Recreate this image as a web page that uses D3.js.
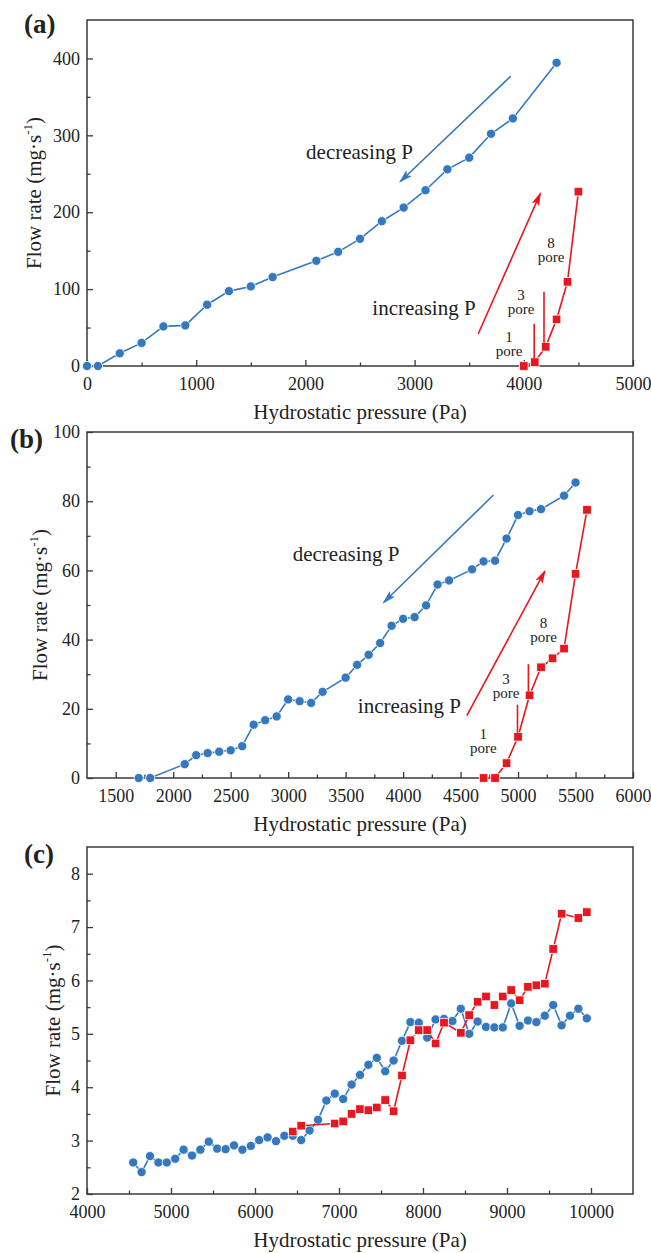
<!DOCTYPE html>
<html>
<head>
<meta charset="utf-8">
<script src="https://cdn.jsdelivr.net/npm/d3@7"></script>
<style>
body { margin: 0; background: #fff; }
svg text { font-family: "Liberation Serif", "Times New Roman", serif; fill: #222; }
</style>
</head>
<body>
<svg id="chart" width="651" height="1253"></svg>
<script>
// ---- panel (a) ----
var aDecPressure = [0, 100, 300, 500, 700, 900, 1100, 1300, 1500, 1700, 2100, 2300, 2500, 2700, 2900, 3100, 3300, 3500, 3700, 3900, 4300];
var aDecFlow = [0, 0, 16.5, 30, 51.5, 52.8, 79.7, 97.4, 103.5, 115.6, 136.8, 148.5, 165.4, 188.3, 206, 228.6, 255.8, 271, 302, 322, 394.4];
var aIncPressure = [4000, 4100, 4200, 4300, 4400, 4500];
var aIncFlow = [0, 5, 25, 60.6, 109.5, 226.8];
var aTicksX = [0, 1000, 2000, 3000, 4000, 5000];
var aMinorX = [500, 1500, 2500, 3500, 4500];
var aTicksY = [0, 100, 200, 300, 400];
var aMinorY = [50, 150, 250, 350];

// ---- panel (b) ----
var bDecPressure = [1700, 1800, 2100, 2200, 2300, 2400, 2500, 2600, 2700, 2800, 2900, 3000, 3100, 3200, 3300, 3500, 3600, 3700, 3800, 3900, 4000, 4100, 4200, 4300, 4400, 4600, 4700, 4800, 4900, 5000, 5100, 5200, 5400, 5500];
var bDecFlow = [0, 0, 4.0, 6.6, 7.2, 7.6, 8.0, 9.2, 15.4, 16.7, 17.8, 22.7, 22.2, 21.7, 24.9, 29.0, 32.7, 35.6, 39.0, 44.0, 46.0, 46.5, 49.9, 55.9, 57.1, 60.3, 62.6, 62.8, 69.2, 76.0, 77.1, 77.7, 81.6, 85.4];
var bIncPressure = [4700, 4800, 4900, 5000, 5100, 5200, 5300, 5400, 5500, 5600];
var bIncFlow = [0, 0, 4.3, 11.9, 23.9, 32.0, 34.6, 37.4, 59.0, 77.5];
var bTicksX = [1500, 2000, 2500, 3000, 3500, 4000, 4500, 5000, 5500, 6000];
var bMinorX = [1750, 2250, 2750, 3250, 3750, 4250, 4750, 5250, 5750];
var bTicksY = [0, 20, 40, 60, 80, 100];
var bMinorY = [10, 30, 50, 70, 90];

// ---- panel (c) ----
var cDecPressure = [4550, 4650, 4750, 4850, 4950, 5050, 5150, 5250, 5350, 5450, 5550, 5650, 5750, 5850, 5950, 6050, 6150, 6250, 6350, 6450, 6550, 6650, 6750, 6850, 6950, 7050, 7150, 7250, 7350, 7450, 7550, 7650, 7750, 7850, 7950, 8050, 8150, 8250, 8350, 8450, 8550, 8650, 8750, 8850, 8950, 9050, 9150, 9250, 9350, 9450, 9550, 9650, 9750, 9850, 9950];
var cDecFlow = [2.59, 2.41, 2.71, 2.59, 2.59, 2.66, 2.83, 2.72, 2.83, 2.98, 2.85, 2.84, 2.91, 2.83, 2.90, 3.01, 3.06, 2.99, 3.09, 3.09, 3.01, 3.19, 3.39, 3.75, 3.88, 3.78, 4.05, 4.23, 4.42, 4.55, 4.30, 4.50, 4.87, 5.22, 5.21, 4.93, 5.27, 5.28, 5.24, 5.47, 5.00, 5.23, 5.13, 5.12, 5.12, 5.57, 5.15, 5.25, 5.22, 5.34, 5.54, 5.16, 5.34, 5.47, 5.29];
var cIncPressure = [6450, 6550, 6950, 7050, 7150, 7250, 7350, 7450, 7550, 7650, 7750, 7850, 7950, 8050, 8150, 8250, 8450, 8550, 8650, 8750, 8850, 8950, 9050, 9150, 9250, 9350, 9450, 9550, 9650, 9850, 9950];
var cIncFlow = [3.17, 3.28, 3.32, 3.36, 3.50, 3.59, 3.57, 3.62, 3.76, 3.55, 4.22, 4.88, 5.07, 5.07, 4.82, 5.21, 5.02, 5.35, 5.60, 5.70, 5.54, 5.70, 5.82, 5.63, 5.88, 5.91, 5.94, 6.59, 7.25, 7.17, 7.28];
var cTicksX = [4000, 5000, 6000, 7000, 8000, 9000, 10000];
var cMinorX = [4500, 5500, 6500, 7500, 8500, 9500];
var cTicksY = [2, 3, 4, 5, 6, 7, 8];
var cMinorY = [2.5, 3.5, 4.5, 5.5, 6.5, 7.5];

var BLUE = "#3479bd", RED = "#e8161e", AXIS = "#3a3a3a";
var LEFT = 87, RIGHT = 633;

var svg = d3.select("#chart");
var defs = svg.append("defs");
[["arrBlue", BLUE], ["arrRed", RED]].forEach(function(m) {
	defs.append("marker")
		.attr("id", m[0])
		.attr("markerUnits", "userSpaceOnUse")
		.attr("viewBox", "0 0 14 8")
		.attr("refX", 12).attr("refY", 4)
		.attr("markerWidth", 14).attr("markerHeight", 8)
		.attr("orient", "auto")
		.append("path")
		.attr("d", "M0,0 L14,4 L0,8 L3,4 z")
		.attr("fill", m[1]);
});

function zip(xs, ys) {
	return xs.map(function(v, i) { return [v, ys[i]]; });
}

function panel(o) {
	var g = svg.append("g");
	var x = d3.scaleLinear().domain(o.xDomain).range([LEFT, RIGHT]);
	var y = d3.scaleLinear().domain(o.yDomain).range([o.bottom, o.top]);

	// minor ticks (inward, no labels)
	g.append("g").attr("transform", "translate(0," + o.bottom + ")")
		.call(d3.axisBottom(x).tickValues(o.minorX).tickSize(-3.5).tickFormat(""));
	g.append("g").attr("transform", "translate(" + LEFT + ",0)")
		.call(d3.axisLeft(y).tickValues(o.minorY).tickSize(-3.5).tickFormat(""));

	// major ticks
	var xa = g.append("g").attr("transform", "translate(0," + o.bottom + ")")
		.call(d3.axisBottom(x).tickValues(o.ticksX).tickSize(-6).tickPadding(11).tickFormat(d3.format("d")));
	var ya = g.append("g").attr("transform", "translate(" + LEFT + ",0)")
		.call(d3.axisLeft(y).tickValues(o.ticksY).tickSize(-6).tickPadding(7).tickFormat(d3.format("d")));
	[xa, ya].forEach(function(a) {
		a.selectAll("text").attr("font-size", 18);
	});
	g.selectAll(".domain").remove();
	g.selectAll(".tick line").attr("stroke", AXIS).attr("stroke-width", 1.3);

	// frame
	g.append("rect")
		.attr("x", LEFT).attr("y", o.top)
		.attr("width", RIGHT - LEFT).attr("height", o.bottom - o.top)
		.attr("fill", "none").attr("stroke", AXIS).attr("stroke-width", 1.5);

	// axis titles
	g.append("text")
		.attr("x", (LEFT + RIGHT) / 2).attr("y", o.bottom + 53)
		.attr("text-anchor", "middle").attr("font-size", 21)
		.text("Hydrostatic pressure (Pa)");
	var yt = g.append("text")
		.attr("transform", "translate(" + o.yTitleX + "," + (o.top + o.bottom) / 2 + ") rotate(-90)")
		.attr("text-anchor", "middle").attr("font-size", 21);
	yt.append("tspan").text("Flow rate (mg\u00b7s");
	yt.append("tspan").attr("font-size", 13).attr("dy", -9).text("-1");
	yt.append("tspan").attr("dy", 9).text(")");

	// panel letter
	g.append("text")
		.attr("x", o.letterX).attr("y", o.letterY)
		.attr("font-size", 27).attr("font-weight", "bold")
		.text(o.letter);

	var line = d3.line().x(function(d) { return x(d[0]); }).y(function(d) { return y(d[1]); });

	// decreasing P (blue circles)
	var dec = zip(o.decP, o.decF);
	g.append("path").datum(dec)
		.attr("d", line).attr("fill", "none")
		.attr("stroke", BLUE).attr("stroke-width", 1.6);
	g.selectAll("circle.dec").data(dec).enter().append("circle")
		.attr("class", "dec")
		.attr("cx", function(d) { return x(d[0]); })
		.attr("cy", function(d) { return y(d[1]); })
		.attr("r", 4.6)
		.attr("fill", BLUE).attr("stroke", "#fff").attr("stroke-width", 0.8);

	// increasing P (red squares)
	var inc = zip(o.incP, o.incF);
	g.append("path").datum(inc)
		.attr("d", line).attr("fill", "none")
		.attr("stroke", RED).attr("stroke-width", 1.6);
	g.selectAll("rect.inc").data(inc).enter().append("rect")
		.attr("class", "inc")
		.attr("x", function(d) { return x(d[0]) - 4.3; })
		.attr("y", function(d) { return y(d[1]) - 4.3; })
		.attr("width", 8.6).attr("height", 8.6)
		.attr("fill", RED).attr("stroke", "#fff").attr("stroke-width", 0.8);

	// annotations
	(o.arrows || []).forEach(function(a) {
		g.append("line")
			.attr("x1", x(a.from[0])).attr("y1", y(a.from[1]))
			.attr("x2", x(a.to[0])).attr("y2", y(a.to[1]))
			.attr("stroke", a.color).attr("stroke-width", 1.6)
			.attr("marker-end", a.color == BLUE ? "url(#arrBlue)" : "url(#arrRed)");
	});
	(o.texts || []).forEach(function(t) {
		g.append("text")
			.attr("x", x(t.at[0])).attr("y", y(t.at[1]))
			.attr("text-anchor", "middle").attr("font-size", t.size)
			.text(t.text);
	});
	(o.pores || []).forEach(function(p) {
		// number and "pore" as two stacked texts
		g.append("text")
			.attr("x", x(p.at[0])).attr("y", y(p.at[1]) - 1)
			.attr("text-anchor", "middle").attr("font-size", 15)
			.text(p.n);
		g.append("text")
			.attr("x", x(p.at[0])).attr("y", y(p.at[1]) + 13)
			.attr("text-anchor", "middle").attr("font-size", 15)
			.text("pore");
		if (p.line) {
			g.append("line")
				.attr("x1", x(p.line[0])).attr("x2", x(p.line[0]))
				.attr("y1", y(p.line[1])).attr("y2", y(p.line[2]) - 4)
				.attr("stroke", RED).attr("stroke-width", 1.6);
		}
	});
}

panel({
	letter: "(a)", letterX: 24, letterY: 33,
	top: 20, bottom: 366, xDomain: [0, 5000], yDomain: [0, 450],
	ticksX: aTicksX, minorX: aMinorX, ticksY: aTicksY, minorY: aMinorY,
	yTitleX: 41,
	decP: aDecPressure, decF: aDecFlow, incP: aIncPressure, incF: aIncFlow,
	arrows: [
		{ from: [3880, 377], to: [2870, 240], color: BLUE },
		{ from: [3582, 41.6], to: [4150, 224], color: RED }
	],
	texts: [
		{ text: "decreasing P", at: [2495, 268.8], size: 21 },
		{ text: "increasing P", at: [3086, 66.3], size: 21 }
	],
	pores: [
		{ n: "1", at: [3865, 29.5], line: [4095, 55, 5] },
		{ n: "3", at: [3975, 84.9], line: [4185, 96.6, 25] },
		{ n: "8", at: [4250, 152] }
	]
});

panel({
	letter: "(b)", letterX: 10, letterY: 448,
	top: 432, bottom: 778, xDomain: [1250, 6000], yDomain: [0, 100],
	ticksX: bTicksX, minorX: bMinorX, ticksY: bTicksY, minorY: bMinorY,
	yTitleX: 47,
	decP: bDecPressure, decF: bDecFlow, incP: bIncPressure, incF: bIncFlow,
	arrows: [
		{ from: [4786, 81.8], to: [3833, 50.8], color: BLUE },
		{ from: [4554, 18.0], to: [5232, 59.7], color: RED }
	],
	texts: [
		{ text: "decreasing P", at: [3504, 62.8], size: 21 },
		{ text: "increasing P", at: [4055, 18.7], size: 21 }
	],
	pores: [
		{ n: "1", at: [4697, 11.1], line: [4995, 21.2, 11.9] },
		{ n: "3", at: [4895, 26.9], line: [5090, 32.9, 23.9] },
		{ n: "8", at: [5222, 43.0] }
	]
});

panel({
	letter: "(c)", letterX: 24, letterY: 863,
	top: 847, bottom: 1194, xDomain: [4000, 10500], yDomain: [2, 8.5],
	ticksX: cTicksX, minorX: cMinorX, ticksY: cTicksY, minorY: cMinorY,
	yTitleX: 60,
	decP: cDecPressure, decF: cDecFlow, incP: cIncPressure, incF: cIncFlow
});
</script>
</body>
</html>
